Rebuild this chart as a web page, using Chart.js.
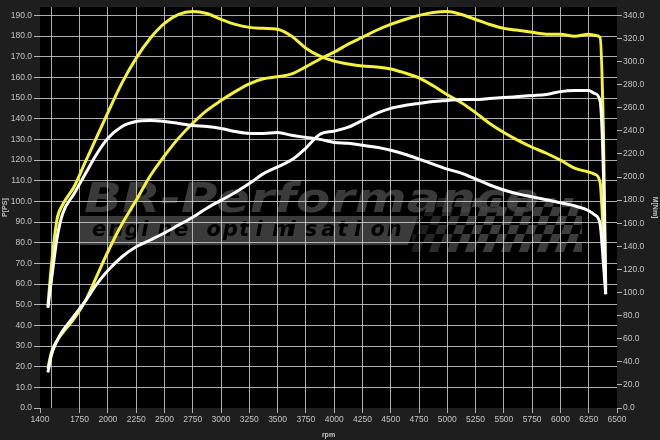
<!DOCTYPE html>
<html>
<head>
<meta charset="utf-8">
<script src="https://cdn.jsdelivr.net/npm/chart.js@4.4.1/dist/chart.umd.min.js"></script>
<style>
  html, body { margin: 0; padding: 0; background: #1e1e1e; }
  #wrap { width: 660px; height: 440px; }
</style>
</head>
<body>
<div id="wrap"><canvas id="dyno" width="660" height="440"></canvas></div>
<script>
// engine speed of every sample
const rpm = [1470, 1500, 1550, 1600, 1700, 1800, 1900, 2000, 2125, 2250, 2375, 2500, 2625, 2750, 2875,
  3000, 3125, 3250, 3375, 3500, 3625, 3750, 3875, 4000, 4125, 4250, 4375, 4500, 4625, 4750, 4875,
  5000, 5125, 5250, 5375, 5500, 5625, 5750, 5875, 6000, 6125, 6250, 6300, 6350, 6380, 6400];

// power, left axis
const powerTuned = [19.1, 26.8, 32.5, 36.4, 43.1, 51.7, 63.6, 75.6, 89.0, 100.5, 112.4, 122.0, 130.6, 137.8, 144.0,
  148.8, 153.1, 156.9, 159.3, 160.3, 161.7, 165.1, 168.9, 172.2, 176.1, 179.4, 182.8, 185.6, 188.0, 190.0, 191.4,
  191.9, 190.4, 188.0, 185.6, 183.7, 182.8, 181.8, 180.9, 180.9, 179.9, 180.9, 180.4, 179.4, 133.0, 58.9];
const powerStock = [17.2, 25.4, 32.5, 37.3, 44.5, 51.7, 59.8, 66.5, 73.2, 78.0, 81.3, 84.7, 88.5, 92.3, 96.7,
  100.5, 104.3, 108.6, 113.4, 116.7, 120.1, 125.8, 132.5, 134.0, 135.9, 139.2, 142.6, 145.0, 146.4, 147.4, 148.3,
  148.8, 149.3, 149.3, 149.8, 150.2, 150.7, 151.2, 151.7, 153.1, 153.6, 153.6, 152.2, 148.8, 113.9, 55.0];

// torque, right axis
const torqueTuned = [88.4, 122.7, 163.1, 176.0, 191.4, 212.9, 234.3, 255.8, 281.5, 303.0, 320.2, 333.0, 340.8, 343.3, 341.6,
  336.5, 332.2, 329.6, 328.8, 327.9, 321.9, 311.6, 304.7, 300.4, 297.9, 296.1, 295.3, 293.6, 290.1, 285.8, 279.0,
  271.2, 264.4, 255.8, 246.4, 238.6, 231.8, 225.8, 220.6, 214.6, 207.7, 204.3, 202.6, 195.7, 148.5, 103.0];
const torqueStock = [86.7, 109.9, 146.8, 168.2, 185.4, 202.6, 219.7, 233.5, 243.8, 248.1, 248.9, 248.1, 246.4, 244.6, 243.8,
  242.1, 239.5, 237.8, 237.8, 238.6, 236.1, 234.3, 232.6, 230.0, 229.2, 227.5, 225.8, 223.2, 219.7, 215.5, 211.2,
  206.9, 203.4, 198.3, 193.1, 188.8, 185.4, 182.8, 180.3, 177.7, 175.1, 170.8, 167.4, 159.7, 125.3, 98.7];

const xTicks = [1400, 1500, 1750, 2000, 2250, 2500, 2750, 3000, 3250, 3500, 3750, 4000, 4250, 4500,
  4750, 5000, 5250, 5500, 5750, 6000, 6250, 6500];
const leftTicks = [0, 10, 20, 30, 40, 50, 60, 70, 80, 90, 100, 110, 120, 130, 140, 150, 160, 170, 180, 190];
const rightTicks = [0, 20, 40, 60, 80, 100, 120, 140, 160, 180, 200, 220, 240, 260, 280, 300, 320, 340];

const leftMax = 194;
const rightMax = leftMax * 340 / 190;

const gridColor = 'rgba(205,205,205,0.85)';
const labelColor = '#c4c4c4';
const tickFont = { family: 'Liberation Sans, Arial, sans-serif', size: 8.5 };
const titleFont = { family: 'Liberation Sans, Arial, sans-serif', size: 7, weight: 'bold' };

function points(values) {
  return rpm.map((r, i) => ({ x: r, y: values[i] }));
}

function drawLogo(ctx, a) {
  // big brand text
  ctx.save();
  ctx.font = 'italic bold 40px "DejaVu Sans", sans-serif';
  ctx.fillStyle = '#3a3a3a';
  ctx.textBaseline = 'alphabetic';
  const brand = 'BR-Performance';
  const w = ctx.measureText(brand).width;
  ctx.translate(84, 212);
  ctx.scale(455 / w, 1);
  ctx.fillText(brand, 0, 0);
  ctx.restore();

  // band under it
  ctx.save();
  ctx.fillStyle = '#3b3b3b';
  ctx.beginPath();
  ctx.moveTo(80, 216);
  ctx.lineTo(418, 216);
  ctx.lineTo(408, 245);
  ctx.lineTo(80, 245);
  ctx.closePath();
  ctx.fill();
  ctx.fillStyle = '#000';
  ctx.font = 'italic bold 21px "DejaVu Sans", sans-serif';
  ctx.textBaseline = 'middle';
  const slogan = 'engine optimisation';
  let x = 92;
  for (const ch of slogan) {
    ctx.fillText(ch, x, 231);
    x += ch === ' ' ? 16 : 16.4;
  }
  ctx.restore();

  // checkered flag
  ctx.save();
  ctx.beginPath();
  ctx.rect(412, 196, 170, 56);
  ctx.clip();
  ctx.transform(1, 0, -0.35, 1, 0, 0);
  const size = 9;
  for (let r = 0; r < 7; r++) {
    for (let c = 0; c < 20; c++) {
      if ((r + c) % 2) continue;
      const cx = 490 + c * size;
      const fade = Math.min(1, c / 6);
      ctx.fillStyle = 'rgba(70,70,70,' + (0.35 + 0.5 * fade) + ')';
      ctx.fillRect(cx, 198 + r * size, size, size);
    }
  }
  ctx.restore();
}

const backdrop = {
  id: 'backdrop',
  beforeDraw(chart) {
    const { ctx, chartArea: a } = chart;
    ctx.save();
    ctx.fillStyle = '#1e1e1e';
    ctx.fillRect(0, 0, chart.width, chart.height);
    ctx.fillStyle = '#000';
    ctx.fillRect(a.left, a.top, a.right - a.left, a.bottom - a.top);
    ctx.beginPath();
    ctx.rect(a.left, a.top, a.right - a.left, a.bottom - a.top);
    ctx.clip();
    drawLogo(ctx, a);
    ctx.restore();
  }
};

function line(label, values, color, axis) {
  return {
    label: label,
    data: points(values),
    yAxisID: axis,
    borderColor: color,
    borderWidth: 3,
    pointRadius: 0,
    fill: false,
    cubicInterpolationMode: 'monotone'
  };
}

new Chart(document.getElementById('dyno'), {
  type: 'line',
  data: {
    datasets: [
      line('Torque stock', torqueStock, '#ffffff', 'y1'),
      line('Power stock', powerStock, '#ffffff', 'y'),
      line('Torque tuned', torqueTuned, '#f4f23a', 'y1'),
      line('Power tuned', powerTuned, '#f4f23a', 'y')
    ]
  },
  options: {
    responsive: false,
    devicePixelRatio: 1,
    animation: false,
    layout: { padding: { top: 3, left: 0, right: 0, bottom: 0 } },
    plugins: { legend: { display: false }, tooltip: { enabled: false } },
    scales: {
      x: {
        type: 'linear',
        min: 1400,
        max: 6500,
        afterBuildTicks: s => { s.ticks = xTicks.map(v => ({ value: v })); },
        afterFit: s => { s.height = 32; },
        ticks: {
          autoSkip: false,
          maxRotation: 0,
          color: labelColor,
          font: tickFont,
          padding: 2,
          callback: v => (v === 1500 ? '' : v)
        },
        grid: {
          color: c => (c.tick && (c.tick.value === 1400 || c.tick.value === 6500) ? 'transparent' : gridColor),
          tickColor: c => (c.tick && c.tick.value === 1500 ? 'transparent' : gridColor),
          tickLength: 5,
          lineWidth: 1
        },
        border: { display: false },
        title: { display: true, text: 'rpm', color: labelColor, font: titleFont, padding: 1 }
      },
      y: {
        position: 'left',
        min: 0,
        max: leftMax,
        afterBuildTicks: s => { s.ticks = leftTicks.map(v => ({ value: v })); },
        afterFit: s => { s.width = 40; },
        ticks: { color: labelColor, font: tickFont, padding: 2, callback: v => v.toFixed(1) },
        grid: {
          color: c => (c.tick && c.tick.value === 0 ? 'transparent' : gridColor),
          tickColor: gridColor,
          tickLength: 6,
          lineWidth: 1
        },
        border: { display: false },
        title: { display: true, text: 'P[PS]', color: labelColor, font: titleFont, padding: 1 }
      },
      y1: {
        position: 'right',
        min: 0,
        max: rightMax,
        afterBuildTicks: s => { s.ticks = rightTicks.map(v => ({ value: v })); },
        afterFit: s => { s.width = 43; },
        ticks: { color: labelColor, font: tickFont, padding: 1, callback: v => v.toFixed(1) },
        grid: { drawOnChartArea: false, tickColor: gridColor, tickLength: 5 },
        border: { display: false },
        title: { display: true, text: 'M[Nm]', color: labelColor, font: titleFont, padding: 1 }
      }
    }
  },
  plugins: [backdrop]
});
</script>
</body>
</html>
